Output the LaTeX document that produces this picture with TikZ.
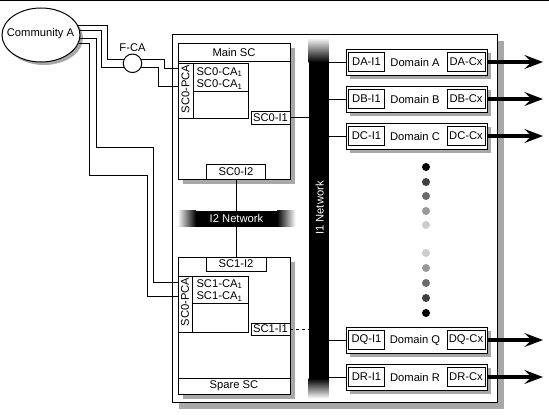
\documentclass[tikz,border=0pt]{standalone}
\usepackage{fontspec}
\setmainfont{Liberation Sans}
\usetikzlibrary{calc,shadows,shapes.geometric,arrows.meta}
\definecolor{shadowgray}{RGB}{168,168,168}
\tikzset{every picture/.style={line width=0.75pt}}
\tikzset{
  sz/.style 2 args={minimum width=#1*0.75pt, minimum height=#2*0.75pt},
  box/.style={draw, fill=white, rectangle, inner sep=0pt, outer sep=0pt},
  sdw/.style={drop shadow={shadow xshift=#1, shadow yshift=-#1, fill=shadowgray, opacity=1}},
  flow/.style={line width=3pt, -{Stealth[length=14pt,width=10.5pt,inset=5.5pt]}},
  lbl/.style={inner sep=0pt},
  wlbl/.style={inner sep=0pt, text=white}
}

\begin{document}
\begin{tikzpicture}[x=0.75pt,y=0.75pt,yscale=-1,xscale=1,font=\fontsize{8.4}{10}\selectfont]
\useasboundingbox (0,0) rectangle (549,414);
%Straight Lines
\draw (0,0.5) -- (549,0.5);
%Shape: Rectangle
\node[box, sdw=5.25pt, sz={325}{368}, anchor=north west] (frame) at (172,34) {};

%I1 Network
\node[inner sep=0pt, sz={19}{360}] (i1) at (318.5,218) {};
\shade[top color=white, bottom color=black] (i1.north west) rectangle ($(i1.north east)+(0,24.5)$);
\fill[black] ($(i1.north west)+(0,24)$) rectangle ($(i1.south east)+(0,-19.5)$);
\shade[top color=black, bottom color=white] ($(i1.south west)+(0,-20)$) rectangle (i1.south east);
% Text Node
\node[wlbl, rotate=90] (i1txt) at (319.5,208) {I1 Network};

%Main SC
\node[box, sdw=3.75pt, sz={112}{136}, anchor=north west] (mainsc) at (178,43) {};
\draw ($(mainsc.north west)+(0,18)$) -- ($(mainsc.north east)+(0,18)$);
% Text Node
\node[lbl] (mainsctxt) at ($(mainsc.north)+(0,9.5)$) {Main SC};
%Shape: Rectangle
\node[box, sz={70}{55}, anchor=north west] (pca0) at (178,63) {};
\draw ($(pca0.north west)+(15,0)$) -- ($(pca0.south west)+(15,0)$);
\draw ($(pca0.north west)+(15,28)$) -- ($(pca0.north east)+(0,28)$);
% Text Node
\node[lbl, rotate=90] (pca0txt) at (185.5,89) {SC0-PCA};
\node[lbl, anchor=base west] (ca0a) at (196,75) {SC0-CA\textsubscript{1}};
\node[lbl, anchor=base west] (ca0b) at (196,87.5) {SC0-CA\textsubscript{1}};
%Shape: Rectangle
\node[box, sz={39}{13}, anchor=north east] (sc0i1) at (290,111) {SC0-I1};
\node[box, sz={59}{15}, anchor=south] (sc0i2) at (236,179) {SC0-I2};

%I2 Network
\node[inner sep=0pt, sz={117}{15}] (i2) at (236.5,218.5) {};
\shade[left color=white, right color=black] (i2.north west) rectangle ($(i2.south west)+(18.5,0)$);
\fill[black] ($(i2.north west)+(18,0)$) rectangle ($(i2.south east)+(-18,0)$);
\shade[left color=black, right color=white] ($(i2.north east)+(-18.5,0)$) rectangle (i2.south east);
% Text Node
\node[wlbl] (i2txt) at (i2) {I2 Network};

%Spare SC
\node[box, sdw=3.75pt, sz={112}{137}, anchor=north west] (sparesc) at (178,257) {};
\draw ($(sparesc.south west)+(0,-16)$) -- ($(sparesc.south east)+(0,-16)$);
% Text Node
\node[lbl] (sparesctxt) at ($(sparesc.south)+(0,-8)$) {Spare SC};
%Shape: Rectangle
\node[box, sz={60}{14}, anchor=north] (sc1i2) at (236,257) {SC1-I2};
\node[box, sz={70}{56}, anchor=north west] (pca1) at (178,276) {};
\draw ($(pca1.north west)+(14,0)$) -- ($(pca1.south west)+(14,0)$);
\draw ($(pca1.north west)+(14,27)$) -- ($(pca1.north east)+(0,27)$);
% Text Node
\node[lbl, rotate=90] (pca1txt) at (185,302) {SC0-PCA};
\node[lbl, anchor=base west] (ca1a) at (196,287) {SC1-CA\textsubscript{1}};
\node[lbl, anchor=base west] (ca1b) at (196,299.5) {SC1-CA\textsubscript{1}};
%Shape: Rectangle
\node[box, sz={39}{12}, anchor=north east] (sc1i1) at (290,323) {SC1-I1};

%Straight Lines
\draw (sc0i1.east) -- (sc0i1.east -| i1.west);
\draw (sc0i2.south) -- (sc0i2.south |- i2.north);
\draw (sc1i2.north) -- (sc1i2.north |- i2.south);
\draw[dash pattern=on 2.25pt off 2.25pt] (sc1i1.east) -- (sc1i1.east -| i1.west);

%Domain A
\node[box, sdw=3pt, sz={141}{26}] (domA) at (416.5,62) {};
\node[box, sz={36}{19}, anchor=west] (dIA) at ($(domA.west)+(2.5,0)$) {DA-I1};
\node[box, sz={38}{19}, anchor=east] (dCA) at ($(domA.east)+(-2,0)$) {DA-Cx};
\node[lbl] (dTA) at (415,62) {Domain A};
\coordinate (outA) at (543,62);
\draw (domA.west -| i1.east) -- (domA.west);
\draw[flow] (domA.east) -- (outA);
%Domain B
\node[box, sdw=3pt, sz={141}{26}] (domB) at (416.5,99) {};
\node[box, sz={36}{19}, anchor=west] (dIB) at ($(domB.west)+(2.5,0)$) {DB-I1};
\node[box, sz={38}{19}, anchor=east] (dCB) at ($(domB.east)+(-2,0)$) {DB-Cx};
\node[lbl] (dTB) at (415,99) {Domain B};
\coordinate (outB) at (543,99);
\draw (domB.west -| i1.east) -- (domB.west);
\draw[flow] (domB.east) -- (outB);
%Domain C
\node[box, sdw=3pt, sz={141}{26}] (domC) at (416.5,136) {};
\node[box, sz={36}{19}, anchor=west] (dIC) at ($(domC.west)+(2.5,0)$) {DC-I1};
\node[box, sz={38}{19}, anchor=east] (dCC) at ($(domC.east)+(-2,0)$) {DC-Cx};
\node[lbl] (dTC) at (415,136) {Domain C};
\coordinate (outC) at (543,136);
\draw (domC.west -| i1.east) -- (domC.west);
\draw[flow] (domC.east) -- (outC);
%Domain Q
\node[box, sdw=3pt, sz={141}{26}] (domQ) at (416.5,340) {};
\node[box, sz={36}{19}, anchor=west] (dIQ) at ($(domQ.west)+(2.5,0)$) {DQ-I1};
\node[box, sz={38}{19}, anchor=east] (dCQ) at ($(domQ.east)+(-2,0)$) {DQ-Cx};
\node[lbl] (dTQ) at (415,340) {Domain Q};
\coordinate (outQ) at (543,340);
\draw (domQ.west -| i1.east) -- (domQ.west);
\draw[flow] (domQ.east) -- (outQ);
%Domain R
\node[box, sdw=3pt, sz={141}{26}] (domR) at (416.5,377) {};
\node[box, sz={36}{19}, anchor=west] (dIR) at ($(domR.west)+(2.5,0)$) {DR-I1};
\node[box, sz={38}{19}, anchor=east] (dCR) at ($(domR.east)+(-2,0)$) {DR-Cx};
\node[lbl] (dTR) at (415,377) {Domain R};
\coordinate (outR) at (543,377);
\draw (domR.west -| i1.east) -- (domR.west);
\draw[flow] (domR.east) -- (outR);

%Shape: Circle (dots)
\fill[black] (426,167) circle [radius=4];
\fill[black!75] (426,182) circle [radius=4];
\fill[black!58] (426,196) circle [radius=4];
\fill[black!40] (426,211) circle [radius=4];
\fill[black!20] (426,225) circle [radius=4];
\fill[black!20] (426,253) circle [radius=4];
\fill[black!40] (426,268) circle [radius=4];
\fill[black!58] (426,283) circle [radius=4];
\fill[black!75] (426,298) circle [radius=4];
\fill[black] (426,313) circle [radius=4];

%Shape: Ellipse
\node[ellipse, draw, fill=white, sdw=2.25pt, inner sep=0pt, sz={78}{54}] (comm) at (41,35) {};
% Text Node
\node[lbl] (commtxt) at (40.5,34) {Community A};
%Shape: Circle
\node[circle, draw, fill=white, inner sep=0pt, minimum size=18.5*0.75pt] (fca) at (132.5,63.3) {};
% Text Node
\node[lbl] (fcatxt) at (132.5,48) {F-CA};

%Straight Lines
\draw (comm.15.4) -| ($(fca.154)+(-16,0)$) -- (fca.154);
\draw (comm.7.4) -| ($(fca.206)+(-22,0)$) -- (fca.206);
\draw (fca.26) -- ++(23,0) |- ($(pca0.north west)+(0,5)$);
\draw (fca.-26) -- ++(17,0) |- ($(pca0.north west)+(0,23)$);
\draw (comm.-5.9) -| (96,147) -- (153,147) |- ($(pca1.north west)+(0,6)$);
\draw (comm.-12.1) -| (89,175) -- (147,175) |- ($(pca1.north west)+(0,20)$);
\end{tikzpicture}
\end{document}
